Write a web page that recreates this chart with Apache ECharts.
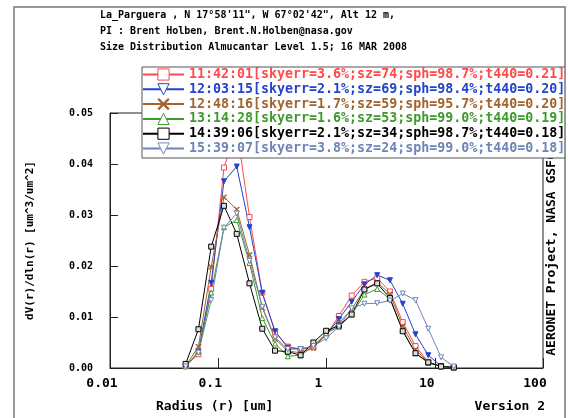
<!DOCTYPE html>
<html>
<head>
<meta charset="utf-8">
<script src="https://cdn.jsdelivr.net/npm/echarts@6.0.0/dist/echarts.min.js"></script>
<style>
html, body { margin: 0; padding: 0; background: #fff; }
#chart { width: 568px; height: 418px; }
</style>
</head>
<body>
<div id="chart"></div>
<script>
const MONO = '"DejaVu Sans Mono", "Liberation Mono", monospace';

// AERONET almucantar size bins (um)
const radius = [0.05, 0.065604, 0.086077, 0.112939, 0.148184, 0.194429, 0.255105, 0.334716,
  0.439173, 0.576227, 0.756052, 0.991996, 1.30157, 1.707757, 2.240702, 2.939966,
  3.857452, 5.06126, 6.640745, 8.713145, 11.432287, 15.0];

const legendNames = [
  '11:42:01[skyerr=3.6%;sz=74;sph=98.7%;t440=0.21]',
  '12:03:15[skyerr=2.1%;sz=69;sph=98.4%;t440=0.20]',
  '12:48:16[skyerr=1.7%;sz=59;sph=95.7%;t440=0.20]',
  '13:14:28[skyerr=1.6%;sz=53;sph=99.0%;t440=0.19]',
  '14:39:06[skyerr=2.1%;sz=34;sph=98.7%;t440=0.18]',
  '15:39:07[skyerr=3.8%;sz=24;sph=99.0%;t440=0.18]'
];

// dV(r)/dln(r)
const v1142 = [0.0004, 0.0027, 0.0155, 0.0393, 0.0470, 0.0296, 0.0148, 0.0071, 0.0042, 0.0037, 0.0040,
  0.0065, 0.0102, 0.0142, 0.0169, 0.0176, 0.0150, 0.0090, 0.0043, 0.0012, 0.0003, 0.0001];
const v1203 = [0.0003, 0.0032, 0.0167, 0.0366, 0.0395, 0.0276, 0.0147, 0.0072, 0.0040, 0.0037, 0.0043,
  0.0066, 0.0096, 0.0130, 0.0164, 0.0182, 0.0172, 0.0126, 0.0066, 0.0025, 0.0004, 0.0001];
const v1248 = [0.0004, 0.0042, 0.0198, 0.0335, 0.0311, 0.0222, 0.0118, 0.0057, 0.0033, 0.0030, 0.0040,
  0.0066, 0.0088, 0.0115, 0.0155, 0.0168, 0.0145, 0.0082, 0.0036, 0.0011, 0.0003, 0.0001];
const v1314 = [0.0003, 0.0032, 0.0148, 0.0276, 0.0290, 0.0206, 0.0098, 0.0048, 0.0023, 0.0025, 0.0042,
  0.0068, 0.0081, 0.0105, 0.0144, 0.0155, 0.0135, 0.0074, 0.0029, 0.0010, 0.0003, 0.0001];
const v1439 = [0.0008, 0.0076, 0.0238, 0.0318, 0.0263, 0.0166, 0.0077, 0.0034, 0.0032, 0.0025, 0.0050,
  0.0073, 0.0083, 0.0105, 0.0154, 0.0166, 0.0137, 0.0072, 0.0029, 0.0011, 0.0003, 0.0001];
const v1539 = [0.0003, 0.0030, 0.0133, 0.0275, 0.0303, 0.0210, 0.0120, 0.0060, 0.0037, 0.0037, 0.0043,
  0.0058, 0.0081, 0.0117, 0.0126, 0.0127, 0.0132, 0.0146, 0.0133, 0.0077, 0.0021, 0.0003];

const xTicks = ['0.01', '0.1', '1', '10', '100'];

const SQUARE = 'path://M0,0L10,0L10,10L0,10Z';
const TRI_UP = 'path://M5,0L10,10L0,10Z';
const TRI_DOWN = 'path://M0,0L10,0L5,10Z';
const CROSS = 'path://M0,1L1,0L5,4L9,0L10,1L6,5L10,9L9,10L5,6L1,10L0,9L4,5Z';
const looks = [
  { color: '#ff4a4a', symbol: SQUARE, fill: '#fff' },
  { color: '#2244cc', symbol: TRI_DOWN, fill: '#2244cc' },
  { color: '#a0642e', symbol: CROSS, fill: '#a0642e' },
  { color: '#3f9a2e', symbol: TRI_UP, fill: '#fff' },
  { color: '#000000', symbol: SQUARE, fill: '#ddd' },
  { color: '#6d86b8', symbol: TRI_DOWN, fill: '#fff' }
];
const values = [v1142, v1203, v1248, v1314, v1439, v1539];

const chart = echarts.init(document.getElementById('chart'), null, { renderer: 'canvas' });

const series = values.map((vals, i) => ({
  type: 'line',
  name: legendNames[i],
  data: radius.map((r, k) => [r, vals[k]]),
  symbol: looks[i].symbol,
  symbolSize: 5,
  lineStyle: { color: looks[i].color, width: 1 },
  itemStyle: { color: looks[i].fill, borderColor: looks[i].color, borderWidth: 1 },
  emphasis: { disabled: true },
  animation: false
}));

chart.setOption({
  animation: false,
  title: {
    text: 'La_Parguera , N 17°58\'11", W 67°02\'42", Alt 12 m,\nPI : Brent Holben, Brent.N.Holben@nasa.gov\nSize Distribution Almucantar Level 1.5; 16 MAR 2008',
    left: 100, top: 7, padding: 0,
    textStyle: { fontFamily: MONO, fontSize: 10, fontWeight: 'bold', lineHeight: 16, color: '#000' }
  },
  legend: {
    orient: 'vertical', left: 142, top: 67,
    itemWidth: 41, itemHeight: 14, itemGap: 1.8,
    padding: [1, 6, 3, 0],
    backgroundColor: '#fff', borderColor: '#555', borderWidth: 1,
    selectedMode: false,
    textStyle: { fontFamily: MONO, fontSize: 13.3, fontWeight: 'bold' },
    data: legendNames.map((n, i) => ({
      name: n,
      textStyle: { color: looks[i].color },
      itemStyle: { color: looks[i].symbol === CROSS ? looks[i].color : '#fff', borderColor: looks[i].color, borderWidth: 1 }
    }))
  },
  grid: {
    left: 110, right: 25, top: 113, bottom: 50,
    show: true, borderColor: '#222', borderWidth: 1, backgroundColor: 'transparent'
  },
  xAxis: {
    type: 'log', logBase: 10, min: 0.01, max: 100,
    axisLine: { lineStyle: { color: '#222' } },
    axisTick: { inside: true, length: 10, lineStyle: { color: '#222' } },
    minorTick: { show: false },
    splitLine: { show: false },
    axisLabel: {
      margin: 9, color: '#000', fontFamily: MONO, fontSize: 13, fontWeight: 'bold',
      padding: [0, 16, 0, 0],
      formatter: v => xTicks[Math.round(Math.log10(v)) + 2]
    }
  },
  yAxis: {
    type: 'value', min: 0, max: 0.05, interval: 0.01,
    name: 'dV(r)/dln(r) [um^3/um^2]', nameLocation: 'middle', nameGap: 74, nameRotate: 90,
    nameTextStyle: { fontFamily: MONO, fontSize: 11, fontWeight: 'bold', color: '#000' },
    axisLine: { show: true, lineStyle: { color: '#222' } },
    axisTick: { show: true, inside: true, length: 8, lineStyle: { color: '#222' } },
    splitLine: { show: false },
    axisLabel: {
      margin: 17, color: '#000', fontFamily: MONO, fontSize: 10, fontWeight: 'bold',
      formatter: v => v.toFixed(2)
    }
  },
  graphic: [
    // white margin to the right of the outer frame, then the frame on top
    { type: 'rect', silent: true, zlevel: 1, shape: { x: 565.5, y: 0, width: 10, height: 418 },
      style: { fill: '#fff' } },
    { type: 'rect', silent: true, zlevel: 1, shape: { x: 14, y: 7, width: 551, height: 430 },
      style: { fill: 'none', stroke: '#777', lineWidth: 1.5 } },
    { type: 'text', x: 156, y: 407,
      style: { text: 'Radius (r) [um]', font: 'bold 13px ' + MONO, fill: '#000', textVerticalAlign: 'middle' } },
    { type: 'text', x: 545, y: 407,
      style: { text: 'Version 2', font: 'bold 13px ' + MONO, fill: '#000', textAlign: 'right', textVerticalAlign: 'middle' } },
    { type: 'text', x: 552, y: 254, rotation: Math.PI / 2,
      style: { text: 'AERONET Project, NASA GSFC', font: 'bold 13px ' + MONO, fill: '#000', textAlign: 'center', textVerticalAlign: 'middle' } }
  ],
  series
});
window.addEventListener('resize', () => chart.resize());
</script>
</body>
</html>
